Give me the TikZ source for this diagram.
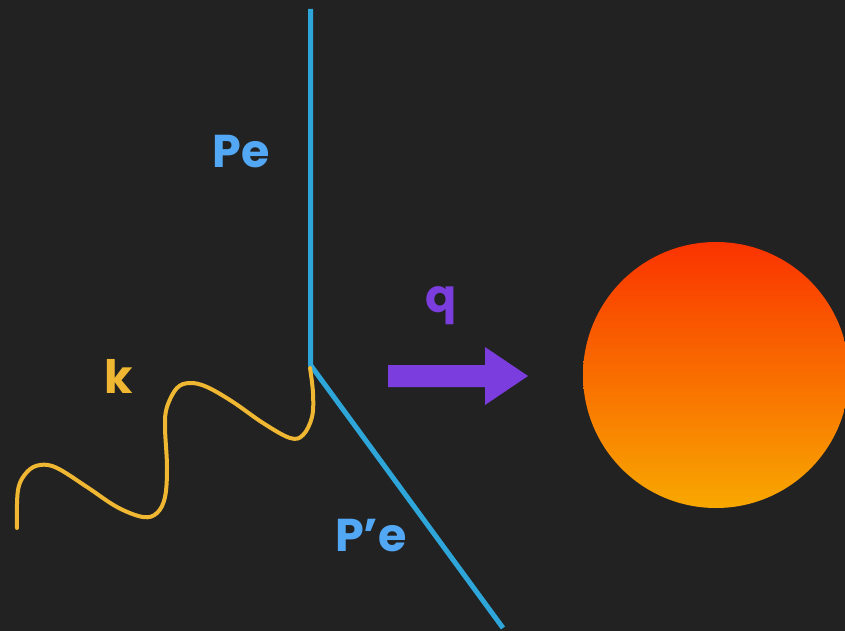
\documentclass[tikz,border=0pt]{standalone}
\usepackage{fontspec}
\setmainfont{Poppins}
\definecolor{bg}{HTML}{222222}
\definecolor{lineblue}{HTML}{2EA6DA}
\definecolor{textblue}{HTML}{52A8F5}
\definecolor{wavey}{HTML}{F0B832}
\definecolor{purp}{HTML}{7B3DDE}
\definecolor{ortop}{HTML}{FA3300}
\definecolor{orbot}{HTML}{F8A800}
\tikzset{
  lbl/.style={font=\bfseries\fontsize{46}{46}\selectfont, inner sep=0pt},
  fermion/.style={draw=lineblue, line width=5pt},
  photon/.style={draw=wavey, line width=4pt, line cap=round},
}
\begin{document}
\begin{tikzpicture}[x=1pt,y=-1pt]
\fill[bg] (0,0) rectangle (845,631);
\useasboundingbox (0,0) rectangle (845,631);
\coordinate (top) at (310.5,9);
\coordinate (vtx) at (310.5,365);
\coordinate (bot) at (503,628);
\draw[fermion] (top) -- (vtx) -- (bot);
\draw[photon] plot[smooth, tension=0.6] coordinates {(17,528) (18,490) (27,472) (40,465) (57,468) (87,487) (117,507) (143,517) (157,513) (165,497) (167,467) (165,427) (167,407) (177,388) (190,383) (207,387) (233,402) (263,423) (290,438) (303,435) (312,417) (313,393) (310,368)};
\node[lbl, text=textblue] (pe) at (241,152) {Pe};
\node[lbl, text=textblue] (pep) at (371,536) {P’e};
\node[lbl, text=wavey] (k) at (119,376) {k};
\node[lbl, text=purp] (q) at (441,306) {q};
\fill[purp] (388,365) -- (485,365) -- (485,347) -- (528,376) -- (485,405) -- (485,387) -- (388,387) -- cycle;
\shade[top color=ortop, bottom color=orbot] (716,375) circle (133);
\end{tikzpicture}
\end{document}
